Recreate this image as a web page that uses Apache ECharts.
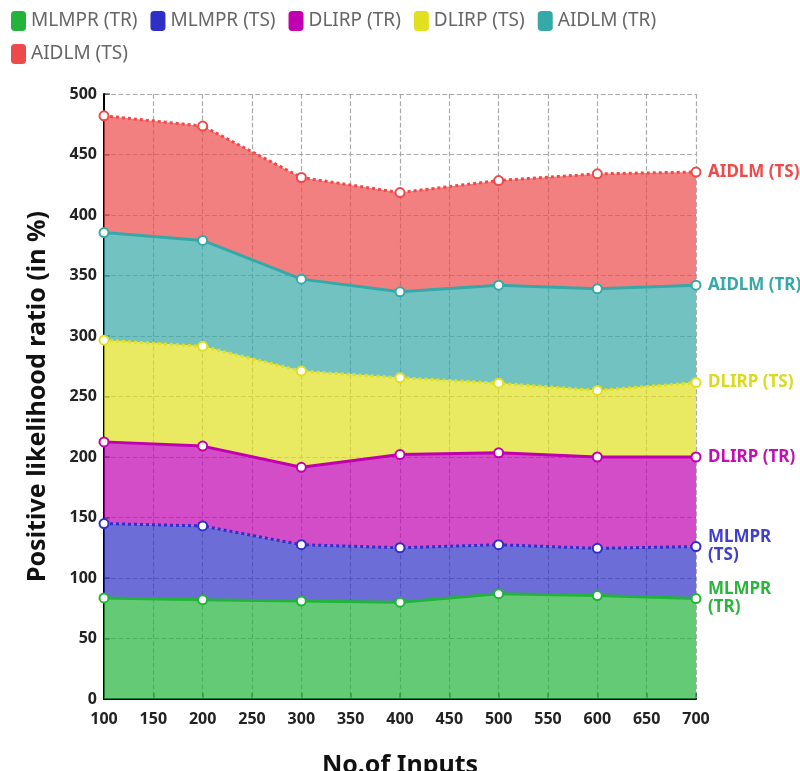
<!DOCTYPE html>
<html>
<head>
<meta charset="utf-8">
<script src="https://cdn.jsdelivr.net/npm/echarts@6/dist/echarts.min.js"></script>
<style>html,body{margin:0;padding:0;background:#fff}#c{width:800px;height:771px}</style>
</head>
<body>
<div id="c"></div>
<script>
const axisTicks = ['100', '150', '200', '250', '300', '350', '400', '450', '500', '550', '600', '650', '700'];
const inputs = ['100', '200', '300', '400', '500', '600', '700'];
const seriesNames = ['MLMPR (TR)', 'MLMPR (TS)', 'DLIRP (TR)', 'DLIRP (TS)', 'AIDLM (TR)', 'AIDLM (TS)'];
const mlmprTR = [83.5, 82, 81, 80, 87, 85.5, 83];
const mlmprTS = [61.5, 61, 46.5, 45, 40.5, 39, 43];
const dlirpTR = [67.5, 66, 64, 77, 76, 75.5, 74];
const dlirpTS = [84, 82.5, 79.5, 63.5, 57.5, 55, 61.5];
const aidlmTR = [89, 87.5, 76, 71, 81, 84, 80.5];
const aidlmTS = [96.5, 94.5, 84, 82, 86.5, 95, 93.5];

const values = [mlmprTR, mlmprTS, dlirpTR, dlirpTS, aidlmTR, aidlmTS];
const lineColors = ['#22b33a', '#2f2fc8', '#c000b0', '#e0e020', '#36a8a8', '#ee4a4a'];
const labelColors = ['#2cb53c', '#4040cc', '#c010b2', '#dada20', '#36a8a8', '#ee4a4a'];
const lineTypes = ['solid', 'dotted', 'solid', 'dotted', 'solid', 'dotted'];

const chart = echarts.init(document.getElementById('c'));
const font = 'Noto Sans';

const series = seriesNames.map((name, i) => ({
  name: name,
  type: 'line',
  stack: 'total',
  data: inputs.map((x, j) => [x, values[i][j]]),
  symbol: 'emptyCircle',
  symbolSize: 9,
  color: lineColors[i],
  lineStyle: { width: 3, type: lineTypes[i], color: lineColors[i] },
  itemStyle: { color: lineColors[i], borderWidth: 2.5 },
  areaStyle: { color: lineColors[i], opacity: 0.7 },
  labelLine: { show: true, length2: 4, lineStyle: { color: '#aaa', width: 3 } },
  labelLayout: { moveOverlap: 'shiftY' },
  endLabel: {
    show: true,
    distance: 12,
    fontFamily: font,
    fontWeight: 'bold',
    fontSize: 17,
    lineHeight: 18,
    color: labelColors[i],
    formatter: (p) => p.seriesName.startsWith('MLMPR') ? p.seriesName.replace(' ', '\n') : p.seriesName
  },
  z: 20 - i
}));

chart.setOption({
  animation: false,
  textStyle: { fontFamily: font },
  legend: {
    left: 6,
    top: 6,
    width: 700,
    icon: 'roundRect',
    itemWidth: 15,
    itemHeight: 20,
    itemGap: 13,
    textStyle: { fontSize: 19, color: '#666', fontFamily: font },
    data: seriesNames
  },
  grid: { left: 104, right: 104, top: 94, bottom: 72, containLabel: false, outerBoundsMode: 'none' },
  xAxis: {
    type: 'category',
    boundaryGap: false,
    data: axisTicks,
    name: 'No.of Inputs',
    nameLocation: 'middle',
    nameGap: 54,
    nameTextStyle: { fontSize: 25, fontWeight: 'bold', color: '#111', fontFamily: font },
    axisLine: { show: true, lineStyle: { color: '#000', width: 2 } },
    axisTick: { show: true, inside: true, length: 6, interval: 0, lineStyle: { color: 'rgba(0,0,0,0.45)', width: 2 } },
    axisLabel: { fontSize: 16, fontWeight: 'bold', color: '#222', margin: 12, interval: 0, fontFamily: font },
    splitLine: { show: true, interval: 0, lineStyle: { type: 'dashed', color: '#aaa', width: 1.2 } }
  },
  yAxis: {
    type: 'value',
    min: 0,
    max: 500,
    interval: 50,
    name: 'Positive likelihood ratio (in %)',
    nameLocation: 'middle',
    nameGap: 54,
    nameTextStyle: { fontSize: 25, fontWeight: 'bold', color: '#111', fontFamily: font },
    axisLine: { show: true, lineStyle: { color: '#000', width: 2 } },
    axisTick: { show: true, inside: true, length: 6, lineStyle: { color: 'rgba(0,0,0,0.45)', width: 2 } },
    axisLabel: { fontSize: 16, fontWeight: 'bold', color: '#222', margin: 7, fontFamily: font },
    splitLine: { show: true, lineStyle: { type: 'dashed', color: '#aaa', width: 1.2 } }
  },
  series: series
});
</script>
</body>
</html>
